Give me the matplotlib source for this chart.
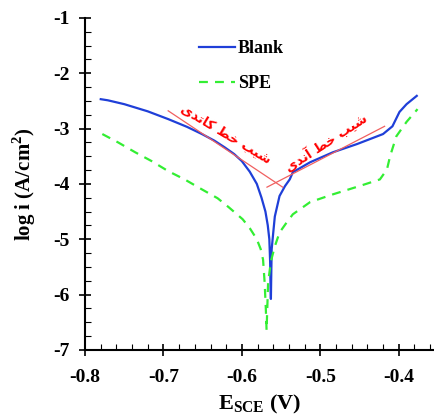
import matplotlib
matplotlib.use('Agg')
import matplotlib.pyplot as plt
from matplotlib.ticker import MultipleLocator, FuncFormatter

# Blank curve (E vs log i)
blank_e = [-0.780, -0.771, -0.750, -0.720, -0.694, -0.670, -0.651, -0.635, -0.622, -0.610,
           -0.600, -0.590, -0.581, -0.575, -0.570, -0.567, -0.565, -0.564, -0.5635, -0.563,
           -0.5625, -0.562, -0.560, -0.558, -0.552, -0.545, -0.539, -0.535, -0.513, -0.484,
           -0.453, -0.420, -0.408, -0.399, -0.390, -0.377]
blank_i = [-2.47, -2.49, -2.56, -2.69, -2.83, -2.97, -3.10, -3.22, -3.34, -3.46,
           -3.59, -3.78, -4.00, -4.25, -4.50, -4.75, -5.00, -5.40, -5.80, -6.08,
           -5.60, -5.18, -4.88, -4.59, -4.22, -4.04, -3.92, -3.79, -3.61, -3.43,
           -3.28, -3.10, -2.96, -2.70, -2.56, -2.41]

# SPE curve
spe_e = [-0.778, -0.758, -0.736, -0.715, -0.694, -0.673, -0.651, -0.631, -0.617, -0.599,
         -0.590, -0.581, -0.576, -0.573, -0.571, -0.5695, -0.5685, -0.5675, -0.5666, -0.563,
         -0.558, -0.552, -0.543, -0.535, -0.513, -0.484, -0.450, -0.424, -0.415, -0.411,
         -0.403, -0.390, -0.376]
spe_i = [-3.10, -3.25, -3.43, -3.59, -3.77, -3.92, -4.10, -4.26, -4.42, -4.64,
         -4.80, -5.00, -5.18, -5.37, -5.78, -6.25, -6.65, -6.20, -5.79, -5.40,
         -5.13, -4.88, -4.70, -4.55, -4.33, -4.19, -4.04, -3.92, -3.74, -3.50,
         -3.14, -2.88, -2.65]

# Tafel tangent lines
cath_e = [-0.694, -0.548]
cath_i = [-2.68, -4.06]
anod_e = [-0.568, -0.418]
anod_i = [-4.06, -2.96]

# Persian labels (presentation forms, visual order)
cath_label = '\uFEB7\uFEF4\uFE90 \uFEA7\uFEC2 \uFEDB\uFE8E\uFE97\uFEAA\uFEEF'[::-1]
anod_label = '\uFEB7\uFEF4\uFE90 \uFEA7\uFEC2 \uFE81\uFEE7\uFEAA\uFEEF'[::-1]

plt.rcParams['font.family'] = ['Liberation Serif', 'DejaVu Serif']
plt.rcParams['font.weight'] = 'bold'
plt.rcParams['axes.labelweight'] = 'bold'
plt.rcParams['axes.unicode_minus'] = False
plt.rcParams['mathtext.fontset'] = 'custom'
plt.rcParams['mathtext.rm'] = 'Liberation Serif:bold'
plt.rcParams['mathtext.bf'] = 'Liberation Serif:bold'

fig = plt.figure(figsize=(4.34, 4.15), dpi=100)
ax = fig.add_axes([0.196, 0.157, 0.804, 0.80])

ax.plot(blank_e, blank_i, color='#1f3fd8', lw=1.6, label='Blank')
ax.plot(spe_e, spe_i, color='#33ee33', lw=1.6, ls=(0, (4, 3.2)), label='SPE')
ax.plot(cath_e, cath_i, color='#f06060', lw=0.9)
ax.plot(anod_e, anod_i, color='#f06060', lw=0.9)

ax.text(-0.620, -3.10, cath_label, color='red', fontsize=9.5, rotation=-31,
        ha='center', va='center', family='DejaVu Sans', fontweight='bold')
ax.text(-0.492, -3.26, anod_label, color='red', fontsize=9.5, rotation=33,
        ha='center', va='center', family='DejaVu Sans', fontweight='bold')

ax.set_xlim(-0.8, -0.355)
ax.set_ylim(-7, -1)
ax.xaxis.set_major_locator(MultipleLocator(0.1))
ax.xaxis.set_minor_locator(MultipleLocator(0.02))
ax.yaxis.set_major_locator(MultipleLocator(1))
ax.yaxis.set_minor_locator(MultipleLocator(0.25))
ax.tick_params(which='major', direction='inout', length=8, width=1.2, labelsize=14)
ax.tick_params(axis='x', which='major', pad=10)
ax.tick_params(axis='y', which='major', pad=7)
ax.tick_params(which='minor', direction='in', length=4, width=0.8)
ax.xaxis.set_major_formatter(FuncFormatter(lambda v, p: '%.1f' % v))

for s in ['top', 'right']:
    ax.spines[s].set_visible(False)
for s in ['left', 'bottom']:
    ax.spines[s].set_linewidth(1.5)

ax.set_xlabel('E$_{\\mathregular{SCE}}$ (V)', fontsize=16, fontweight='bold', labelpad=5)
ax.set_ylabel('log i (A/cm$^{\\mathregular{2}}$)', fontsize=15, fontweight='bold', labelpad=11)

ax.legend(loc='upper left', bbox_to_anchor=(0.3, 0.96), frameon=False, fontsize=13,
          handlelength=2.0, handletextpad=0.15, labelspacing=1.0, borderpad=0)

fig.savefig('out.png', dpi=100)
